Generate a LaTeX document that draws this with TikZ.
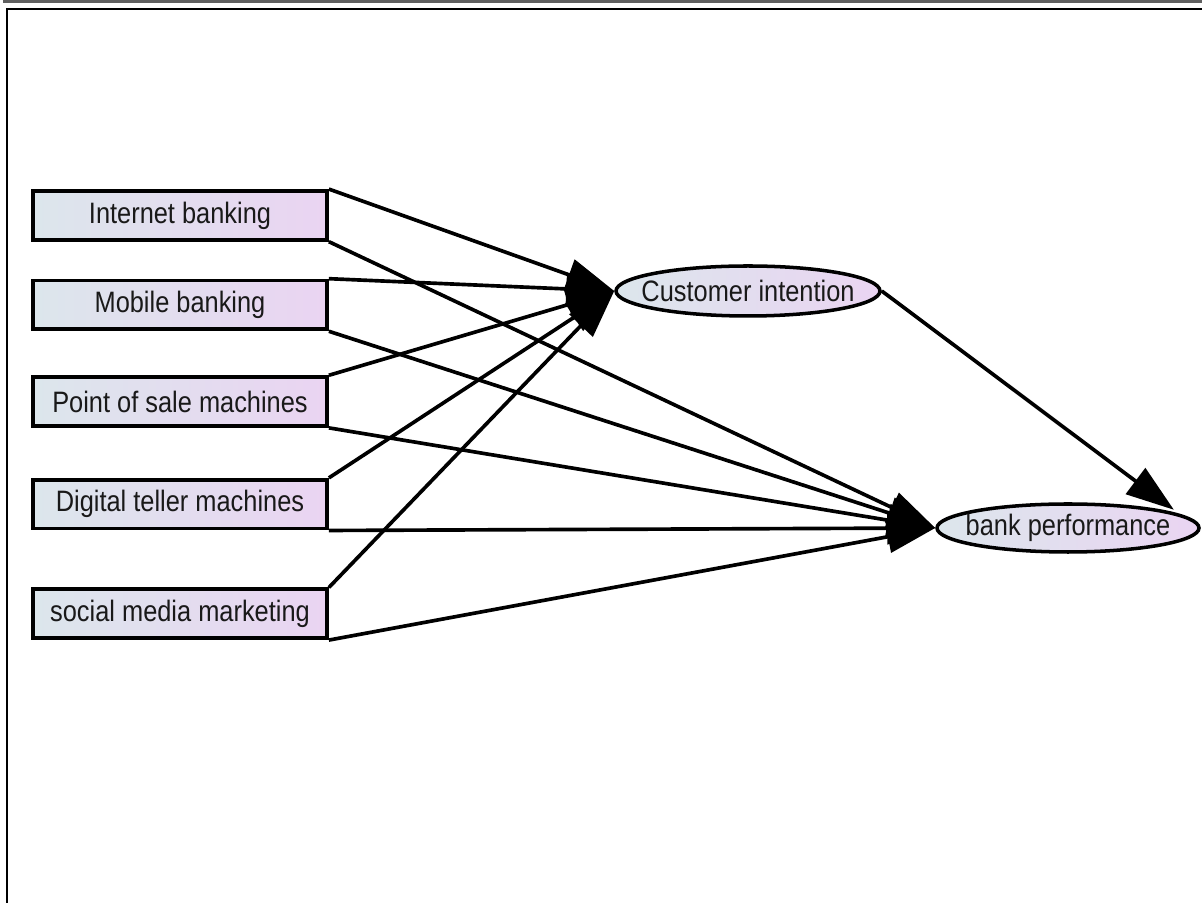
\documentclass[tikz,border=0pt]{standalone}
\usepackage{fontspec}
\setmainfont[FakeStretch=0.86]{Liberation Sans}
\usepackage{tikz}
\usetikzlibrary{positioning}
\usetikzlibrary{shapes.geometric}
\usetikzlibrary{arrows.meta}
\definecolor{shadel}{RGB}{220,230,236}
\definecolor{shader}{RGB}{234,212,242}

\begin{document}
\begin{tikzpicture}[
            factor/.style={rectangle, draw=black, line width=2.7pt, left color=shadel, right color=shader, minimum width=7.35cm, minimum height=1.22cm, inner sep=0pt, text=black!90, font=\fontsize{21}{23}\selectfont},
            latent/.style={ellipse, draw=black, line width=2.5pt, left color=shadel, right color=shader, minimum width=6.6cm, minimum height=1.25cm, inner xsep=-1cm, inner ysep=0pt, text=black!90, font=\fontsize{21}{23}\selectfont},
            link/.style={-{Triangle[length=1.2cm, width=0.8cm]}, line width=2.6pt, black}
        ]
            \useasboundingbox (0,0) rectangle (30.05,22.575);
            \draw[gray!75!black, line width=0.06cm] (0.075,22.54) -- (30.05,22.54);
            \draw[black, line width=0.05cm] (0.175,0) -- (0.175,22.34) -- (30.05,22.34);

            \node[factor](ib) at (4.5,17.19){Internet banking};
                \node[factor](mb)[below=0.925cm of ib]{Mobile banking};
                \node[factor](ps)[below=1.1cm of mb]{Point of sale machines};
                \node[factor](dt)[below=1.25cm of ps]{Digital teller machines};
                \node[factor](sm)[below=1.425cm of dt]{social media marketing};
            \node[latent](ci) at (18.7,15.3){Customer intention};
            \node[latent, minimum width=6.55cm, minimum height=1.2cm](bp) at (26.7,9.375){bank performance};

            \draw[link] (ib.north east) -- (ci.west);
            \draw[link] (mb.north east) -- (ci.west);
            \draw[link] (ps.north east) -- (ci.west);
            \draw[link] (dt.north east) -- (ci.west);
            \draw[link] (sm.north east) -- (ci.west);
            \draw[link] (ib.south east) -- (bp.west);
            \draw[link] (mb.south east) -- (bp.west);
            \draw[link] (ps.south east) -- (bp.west);
            \draw[link] (dt.south east) -- (bp.west);
            \draw[link] (sm.south east) -- (bp.west);
            \draw[link] (ci.east) -- ([xshift=0.3cm]bp.north east);
        \end{tikzpicture}
\end{document}
